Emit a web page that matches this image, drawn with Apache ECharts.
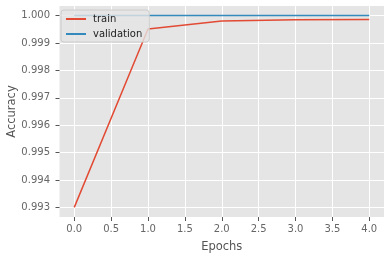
<!DOCTYPE html>
<html>
<head>
<meta charset="utf-8">
<script src="https://cdn.jsdelivr.net/npm/echarts@6/dist/echarts.min.js"></script>
<style>html,body{margin:0;padding:0;background:#fff}#c{width:390px;height:258px}</style>
</head>
<body>
<div id="c"></div>
<script>
const epochs = [0, 1, 2, 3, 4];
const trainAcc = [0.9930, 0.99951, 0.99980, 0.99985, 0.99986];
const valAcc = [1.0, 1.0, 1.0, 1.0, 1.0];
const xTicks = [0, 0.5, 1, 1.5, 2, 2.5, 3, 3.5, 4];
const yTicks = [0.993, 0.994, 0.995, 0.996, 0.997, 0.998, 0.999, 1.000];

const font = 'DejaVu Sans';
const chart = echarts.init(document.getElementById('c'), null, {renderer: 'canvas'});
chart.setOption({
  animation: false,
  backgroundColor: '#fff',
  grid: {left: 59.5, right: 6, top: 6, bottom: 41, show: true, backgroundColor: '#E5E5E5', borderWidth: 0,
    containLabel: false, outerBoundsMode: 'none'},
  legend: {
    orient: 'vertical', left: 61, top: 10,
    data: ['train', 'validation'],
    icon: 'rect', itemWidth: 20, itemHeight: 2, itemGap: 3,
    padding: [3, 7, 2, 5],
    backgroundColor: 'rgba(229,229,229,0.8)',
    borderColor: '#cccccc', borderWidth: 1, borderRadius: 3,
    textStyle: {fontFamily: font, fontSize: 10, color: '#222', padding: [0, 0, 0, 2], lineHeight: 12}
  },
  xAxis: {
    type: 'value', min: -0.2, max: 4.2,
    name: 'Epochs', nameLocation: 'middle', nameGap: 24, nameMoveOverlap: false,
    nameTextStyle: {fontFamily: font, fontSize: 11.5, color: '#555'},
    axisLine: {show: false, onZero: false},
    axisTick: {show: true, length: 4, lineStyle: {color: '#555'}, customValues: xTicks},
    axisLabel: {fontFamily: font, fontSize: 10, color: '#666', margin: 7, customValues: xTicks,
      formatter: v => v.toFixed(1)},
    splitLine: {show: true, lineStyle: {color: '#fff', width: 1}}
  },
  yAxis: {
    type: 'value', min: 0.99265, max: 1.00035,
    name: 'Accuracy', nameLocation: 'middle', nameGap: 41, nameMoveOverlap: false,
    nameTextStyle: {fontFamily: font, fontSize: 11.5, color: '#555'},
    axisLine: {show: false, onZero: false},
    axisTick: {show: true, length: 4, lineStyle: {color: '#555'}, customValues: yTicks},
    axisLabel: {fontFamily: font, fontSize: 10, color: '#666', margin: 9.5, customValues: yTicks,
      formatter: v => v.toFixed(3)},
    splitLine: {show: true, lineStyle: {color: '#fff', width: 1}}
  },
  series: [
    {name: 'train', type: 'line', data: epochs.map((e, i) => [e, trainAcc[i]]),
      symbol: 'none', lineStyle: {width: 1.5, color: '#E24A33'}, itemStyle: {color: '#E24A33'}},
    {name: 'validation', type: 'line', data: epochs.map((e, i) => [e, valAcc[i]]),
      symbol: 'none', lineStyle: {width: 1.5, color: '#348ABD'}, itemStyle: {color: '#348ABD'}}
  ]
});
</script>
</body>
</html>
